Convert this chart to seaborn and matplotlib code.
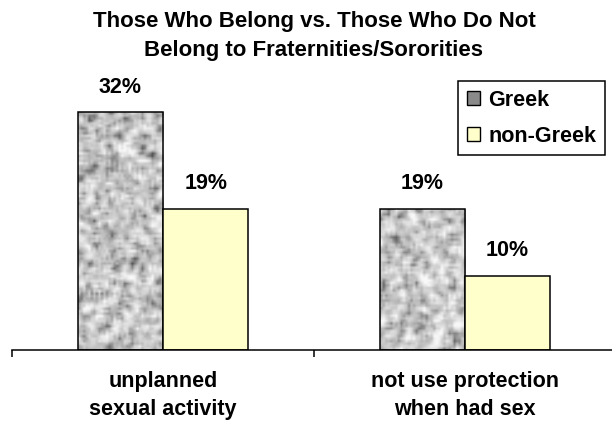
import numpy as np
import pandas as pd
import matplotlib
matplotlib.use("Agg")
import matplotlib.pyplot as plt
from matplotlib.patches import Patch
import seaborn as sns

categories = ["unplanned\nsexual activity", "not use protection\nwhen had sex"]
groups = ["Greek", "non-Greek"]
greek = [32, 19]
non_greek = [19, 10]
title = "Those Who Belong vs. Those Who Do Not\nBelong to Fraternities/Sororities"

df = pd.DataFrame({
    "category": categories * 2,
    "group": [groups[0]] * len(categories) + [groups[1]] * len(categories),
    "value": greek + non_greek,
})

sns.set_style("white")
plt.rcParams["font.family"] = ["Liberation Sans", "DejaVu Sans"]
plt.rcParams["font.weight"] = "bold"
plt.rcParams["text.color"] = "black"
plt.rcParams["xtick.color"] = "black"
plt.rcParams["xtick.labelcolor"] = "black"

gray = "#9a9a9a"
yellow = "#ffffcc"
FS = 15.5

fig = plt.figure(figsize=(6.12, 4.23), dpi=100)
ax = fig.add_axes([12 / 612, (423 - 350) / 423, 604 / 612, 260 / 423])

sns.barplot(data=df, x="category", y="value", hue="group", hue_order=groups,
            palette=[gray, yellow], width=0.565, gap=0, edgecolor="black",
            linewidth=1.1, saturation=1, legend=False, ax=ax)

ax.set_xlim(-0.5, 1.5)
ax.set_ylim(0, 35)

# granite texture for Greek bars
rng = np.random.default_rng(11)
for bar in ax.containers[0]:
    x0, y0 = bar.get_x(), bar.get_y()
    w, h = bar.get_width(), bar.get_height()
    rows = max(int(h / 35 * 260 / 2.5), 8)
    noise = rng.random((rows, 34))
    pad = np.pad(noise, 1, mode="wrap")
    sm = sum(pad[i:i + noise.shape[0], j:j + noise.shape[1]]
             for i in range(3) for j in range(3)) / 9.0
    z = (sm - 0.5) / 0.096
    bright = 0.78 + 0.09 * z
    bright = np.where(z < -0.8, bright - 0.08 * (-0.8 - z), bright)
    bright = np.clip(bright, 0.25, 0.97)
    img = ax.imshow(bright, cmap="gray", vmin=0, vmax=1, aspect="auto",
                    extent=(x0, x0 + w, y0, y0 + h), interpolation="bilinear",
                    zorder=0.5)
    img.set_clip_path(bar)
    bar.set_facecolor("none")
    bar.set_zorder(1)

# value labels
for cont in ax.containers:
    for bar in cont:
        v = bar.get_height()
        ax.annotate(f"{v:.0f}%", (bar.get_x() + bar.get_width() / 2, v),
                    xytext=(0, 18), textcoords="offset points",
                    ha="center", va="center", fontsize=FS, fontweight="bold",
                    color="black")

# axes styling
for s in ["left", "top", "right"]:
    ax.spines[s].set_visible(False)
ax.spines["bottom"].set_color("black")
ax.spines["bottom"].set_linewidth(1.1)
ax.set_yticks([])
ax.set_xlabel("")
ax.set_ylabel("")
ax.set_xticks([-0.5, 0.5, 1.5])
ax.set_xticklabels([])
ax.tick_params(axis="x", which="major", direction="out", length=5, width=1.1,
               color="black", bottom=True)
ax.set_xticks([0, 1], minor=True)
ax.set_xticklabels(categories, minor=True, fontsize=FS, fontweight="bold",
                   linespacing=1.45, color="black")
ax.tick_params(axis="x", which="minor", length=0, pad=15)

fig.text(314 / 612, 1 - 36 / 423, title, ha="center", va="center",
         fontsize=16, fontweight="bold", linespacing=1.45, color="black")

handles = [Patch(facecolor="#8a8a8a", edgecolor="black", linewidth=1),
           Patch(facecolor=yellow, edgecolor="black", linewidth=1)]
leg = fig.legend(handles, groups, loc="upper left",
                 bbox_to_anchor=(458 / 612, 1 - 81 / 423),
                 borderaxespad=0, fancybox=False, framealpha=1,
                 edgecolor="black", handlelength=0.6, handleheight=0.6,
                 handletextpad=0.4, labelspacing=0.7, borderpad=0.4,
                 prop={"weight": "bold", "size": FS})
leg.get_frame().set_linewidth(1.1)
for t in leg.get_texts():
    t.set_color("black")

fig.savefig("out.png", dpi=100)
